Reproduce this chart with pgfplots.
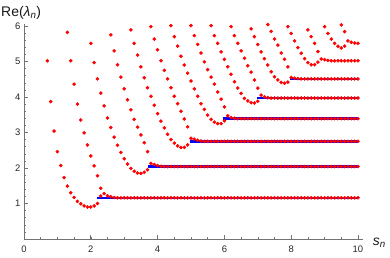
\documentclass[border=0pt]{standalone}
\usepackage{fontspec}
\setmainfont{Liberation Sans}
\usepackage{pgfplots}
\pgfplotsset{compat=1.18}
\begin{document}
\begin{tikzpicture}
\begin{axis}[
  scale only axis, width=339bp, height=214.8bp,
  xmin=0, xmax=10.15, ymin=0, ymax=6.05,
  axis lines=left,
  axis line style={-, draw=black!55, line width=0.6bp},
  xtick={0,2,4,6,8,10}, ytick={1,2,3,4,5,6},
  minor xtick={0.5,1,...,10},
  minor ytick={0.2,0.4,...,6.01},
  tick align=inside,
  major tick length=4bp, minor tick length=2.2bp,
  every tick/.style={draw=black!55, line width=0.6bp},
  every minor tick/.style={draw=black!55, line width=0.5bp},
  every tick label/.append style={font=\fontsize{9.5}{11}\selectfont, text=black!85},
  xticklabel style={yshift=-3.3bp},
  /pgf/number format/assume math mode=true,
  clip=true,
  dots/.style={only marks, mark=*, mark size=1.6bp, color=red},
  asym/.style={blue, line width=2.3bp},
]
\coordinate (O) at (axis cs:0,0);
% level 1
\addplot[dots] coordinates {(0.7,5.02)(0.8,3.87)(0.9,3.04)(1.0,2.46)(1.1,2.07)(1.2,1.73)(1.3,1.49)(1.4,1.30)(1.5,1.17)(1.6,1.06)(1.7,0.99)(1.8,0.93)(1.9,0.90)(2.0,0.90)(2.1,0.93)(2.2,1.00)(2.3,1.21)
(2.4,1.28)(2.5,1.22)(2.6,1.19)(2.7,1.17)
(2.8,1.16)(2.9,1.16)(3.0,1.16)(3.1,1.16)(3.2,1.16)(3.3,1.16)(3.4,1.16)(3.5,1.16)(3.6,1.16)(3.7,1.16)(3.8,1.16)(3.9,1.16)(4.0,1.16)(4.1,1.16)(4.2,1.16)(4.3,1.16)(4.4,1.16)(4.5,1.16)(4.6,1.16)(4.7,1.16)(4.8,1.16)(4.9,1.16)(5.0,1.16)(5.1,1.16)(5.2,1.16)(5.3,1.16)(5.4,1.16)(5.5,1.16)(5.6,1.16)(5.7,1.16)(5.8,1.16)(5.9,1.16)(6.0,1.16)(6.1,1.16)(6.2,1.16)(6.3,1.16)(6.4,1.16)(6.5,1.16)(6.6,1.16)(6.7,1.16)(6.8,1.16)(6.9,1.16)(7.0,1.16)(7.1,1.16)(7.2,1.16)(7.3,1.16)(7.4,1.16)(7.5,1.16)(7.6,1.16)(7.7,1.16)(7.8,1.16)(7.9,1.16)(8.0,1.16)(8.1,1.16)(8.2,1.16)(8.3,1.16)(8.4,1.16)(8.5,1.16)(8.6,1.16)(8.7,1.16)(8.8,1.16)(8.9,1.16)(9.0,1.16)(9.1,1.16)(9.2,1.16)(9.3,1.16)(9.4,1.16)(9.5,1.16)(9.6,1.16)(9.7,1.16)(9.8,1.16)(9.9,1.16)(10.0,1.16)};
\addplot[dots] coordinates {(1.3,5.82)(1.4,5.02)(1.5,4.36)(1.6,3.80)(1.7,3.35)(1.8,2.99)(1.9,2.65)(2.0,2.34)(2.1,2.06)(2.2,1.78)(2.3,1.43)};
% level 2
\addplot[dots] coordinates {(2.0,5.51)(2.1,4.97)(2.2,4.51)(2.3,4.11)(2.4,3.75)(2.5,3.41)(2.6,3.14)(2.7,2.87)(2.8,2.64)(2.9,2.44)(3.0,2.26)(3.1,2.11)(3.2,1.99)(3.3,1.91)(3.4,1.86)(3.5,1.85)(3.6,1.88)(3.7,1.95)
(3.8,2.13)(3.9,2.10)(4.0,2.07)(4.1,2.05)
(4.2,2.04)(4.3,2.04)(4.4,2.04)(4.5,2.04)(4.6,2.04)(4.7,2.04)(4.8,2.04)(4.9,2.04)(5.0,2.04)(5.1,2.04)(5.2,2.04)(5.3,2.04)(5.4,2.04)(5.5,2.04)(5.6,2.04)(5.7,2.04)(5.8,2.04)(5.9,2.04)(6.0,2.04)(6.1,2.04)(6.2,2.04)(6.3,2.04)(6.4,2.04)(6.5,2.04)(6.6,2.04)(6.7,2.04)(6.8,2.04)(6.9,2.04)(7.0,2.04)(7.1,2.04)(7.2,2.04)(7.3,2.04)(7.4,2.04)(7.5,2.04)(7.6,2.04)(7.7,2.04)(7.8,2.04)(7.9,2.04)(8.0,2.04)(8.1,2.04)(8.2,2.04)(8.3,2.04)(8.4,2.04)(8.5,2.04)(8.6,2.04)(8.7,2.04)(8.8,2.04)(8.9,2.04)(9.0,2.04)(9.1,2.04)(9.2,2.04)(9.3,2.04)(9.4,2.04)(9.5,2.04)(9.6,2.04)(9.7,2.04)(9.8,2.04)(9.9,2.04)(10.0,2.04)};
\addplot[dots] coordinates {(2.6,5.75)(2.7,5.30)(2.8,4.91)(2.9,4.56)(3.0,4.23)(3.1,3.92)(3.2,3.64)(3.3,3.37)(3.4,3.15)(3.5,2.93)(3.6,2.71)(3.7,2.46)};
% level 3
\addplot[dots] coordinates {(3.2,5.89)(3.3,5.51)(3.4,5.18)(3.5,4.85)(3.6,4.54)(3.7,4.26)(3.8,4.02)(3.9,3.77)(4.0,3.53)(4.1,3.32)(4.2,3.13)(4.3,2.95)(4.4,2.80)(4.5,2.70)(4.6,2.62)(4.7,2.58)(4.8,2.58)(4.9,2.65)
(5.0,2.84)(5.1,2.81)(5.2,2.78)(5.3,2.76)
(5.4,2.75)(5.5,2.75)(5.6,2.75)(5.7,2.75)(5.8,2.75)(5.9,2.75)(6.0,2.75)(6.1,2.75)(6.2,2.75)(6.3,2.75)(6.4,2.75)(6.5,2.75)(6.6,2.75)(6.7,2.75)(6.8,2.75)(6.9,2.75)(7.0,2.75)(7.1,2.75)(7.2,2.75)(7.3,2.75)(7.4,2.75)(7.5,2.75)(7.6,2.75)(7.7,2.75)(7.8,2.75)(7.9,2.75)(8.0,2.75)(8.1,2.75)(8.2,2.75)(8.3,2.75)(8.4,2.75)(8.5,2.75)(8.6,2.75)(8.7,2.75)(8.8,2.75)(8.9,2.75)(9.0,2.75)(9.1,2.75)(9.2,2.75)(9.3,2.75)(9.4,2.75)(9.5,2.75)(9.6,2.75)(9.7,2.75)(9.8,2.75)(9.9,2.75)(10.0,2.75)};
\addplot[dots] coordinates {(3.8,5.98)(3.9,5.63)(4.0,5.33)(4.1,5.02)(4.2,4.75)(4.3,4.51)(4.4,4.26)(4.5,4.02)(4.6,3.81)(4.7,3.60)(4.8,3.38)(4.9,3.16)};
% level 4
\addplot[dots] coordinates {(4.4,6.01)(4.5,5.70)(4.6,5.43)(4.7,5.15)(4.8,4.90)(4.9,4.67)(5.0,4.45)(5.1,4.23)(5.2,4.02)(5.3,3.81)(5.4,3.65)(5.5,3.49)(5.6,3.37)(5.7,3.29)(5.8,3.25)(5.9,3.25)(6.0,3.33)
(6.1,3.47)(6.2,3.42)(6.3,3.40)
(6.4,3.39)(6.5,3.39)(6.6,3.39)(6.7,3.39)(6.8,3.39)(6.9,3.39)(7.0,3.39)(7.1,3.39)(7.2,3.39)(7.3,3.39)(7.4,3.39)(7.5,3.39)(7.6,3.39)(7.7,3.39)(7.8,3.39)(7.9,3.39)(8.0,3.39)(8.1,3.39)(8.2,3.39)(8.3,3.39)(8.4,3.39)(8.5,3.39)(8.6,3.39)(8.7,3.39)(8.8,3.39)(8.9,3.39)(9.0,3.39)(9.1,3.39)(9.2,3.39)(9.3,3.39)(9.4,3.39)(9.5,3.39)(9.6,3.39)(9.7,3.39)(9.8,3.39)(9.9,3.39)(10.0,3.39)};
\addplot[dots] coordinates {(5.0,6.01)(5.1,5.73)(5.2,5.48)(5.3,5.24)(5.4,4.99)(5.5,4.77)(5.6,4.56)(5.7,4.36)(5.8,4.14)(5.9,3.94)(6.0,3.72)};
% level 5
\addplot[dots] coordinates {(5.6,6.01)(5.7,5.73)(5.8,5.51)(5.9,5.27)(6.0,5.06)(6.1,4.85)(6.2,4.64)(6.3,4.43)(6.4,4.25)(6.5,4.10)(6.6,3.96)(6.7,3.89)(6.8,3.84)(6.9,3.83)(7.0,3.88)
(7.1,4.05)(7.2,4.00)(7.3,3.98)
(7.4,3.97)(7.5,3.97)(7.6,3.97)(7.7,3.97)(7.8,3.97)(7.9,3.97)(8.0,3.97)(8.1,3.97)(8.2,3.97)(8.3,3.97)(8.4,3.97)(8.5,3.97)(8.6,3.97)(8.7,3.97)(8.8,3.97)(8.9,3.97)(9.0,3.97)(9.1,3.97)(9.2,3.97)(9.3,3.97)(9.4,3.97)(9.5,3.97)(9.6,3.97)(9.7,3.97)(9.8,3.97)(9.9,3.97)(10.0,3.97)};
\addplot[dots] coordinates {(6.2,5.98)(6.3,5.73)(6.4,5.51)(6.5,5.30)(6.6,5.09)(6.7,4.88)(6.8,4.70)(6.9,4.48)(7.0,4.25)};
% level 6
\addplot[dots] coordinates {(6.8,5.92)(6.9,5.70)(7.0,5.48)(7.1,5.27)(7.2,5.08)(7.3,4.90)(7.4,4.71)(7.5,4.57)(7.6,4.48)(7.7,4.41)(7.8,4.39)(7.9,4.42)
(8.0,4.55)(8.1,4.53)(8.2,4.52)
(8.3,4.51)(8.4,4.51)(8.5,4.51)(8.6,4.51)(8.7,4.51)(8.8,4.51)(8.9,4.51)(9.0,4.51)(9.1,4.51)(9.2,4.51)(9.3,4.51)(9.4,4.51)(9.5,4.51)(9.6,4.51)(9.7,4.51)(9.8,4.51)(9.9,4.51)(10.0,4.51)};
\addplot[dots] coordinates {(7.3,6.04)(7.4,5.85)(7.5,5.63)(7.6,5.46)(7.7,5.24)(7.8,5.06)(7.9,4.85)};
% level 7
\addplot[dots] coordinates {(7.9,5.98)(8.0,5.79)(8.1,5.58)(8.2,5.39)(8.3,5.23)(8.4,5.08)(8.5,4.97)(8.6,4.91)(8.7,4.91)(8.8,4.98)
(8.9,5.07)(9.0,5.05)(9.1,5.03)
(9.2,5.02)(9.3,5.02)(9.4,5.02)(9.5,5.02)(9.6,5.02)(9.7,5.02)(9.8,5.02)(9.9,5.02)(10.0,5.02)};
\addplot[dots] coordinates {(8.5,5.89)(8.6,5.70)(8.7,5.51)(8.8,5.28)};
% level 8
\addplot[dots] coordinates {(9.0,5.98)(9.1,5.79)(9.2,5.63)(9.3,5.51)(9.4,5.43)(9.5,5.38)(9.6,5.43)
(9.7,5.58)(9.8,5.54)(9.9,5.52)(10.0,5.51)};
\addplot[dots] coordinates {(9.5,6.03)(9.6,5.84)};
% asymptotic levels
\addplot[asym] coordinates {(2.2,1.16)(10,1.16)};
\addplot[asym] coordinates {(3.7,2.04)(10,2.04)};
\addplot[asym] coordinates {(4.97,2.75)(10,2.75)};
\addplot[asym] coordinates {(5.97,3.39)(10,3.39)};
\addplot[asym] coordinates {(6.97,3.97)(10,3.97)};
\addplot[asym] coordinates {(7.95,4.51)(10,4.51)};
\end{axis}
\node[anchor=base west, inner sep=0, font=\fontsize{14}{16}\selectfont, text=black!90] at ([xshift=-23bp, yshift=222.3bp]O) {Re(\textit{λ}\textsubscript{\textit{n}})};
\node[anchor=base west, inner sep=0, font=\fontsize{14}{16}\selectfont, text=black!90] at ([xshift=348.7bp, yshift=-6.7bp]O) {\textit{s}\textsubscript{\textit{n}}};
\pgfresetboundingbox
\path[use as bounding box] ([xshift=-24bp,yshift=-19bp]O) rectangle ([xshift=366bp,yshift=239bp]O);
\end{tikzpicture}
\end{document}
